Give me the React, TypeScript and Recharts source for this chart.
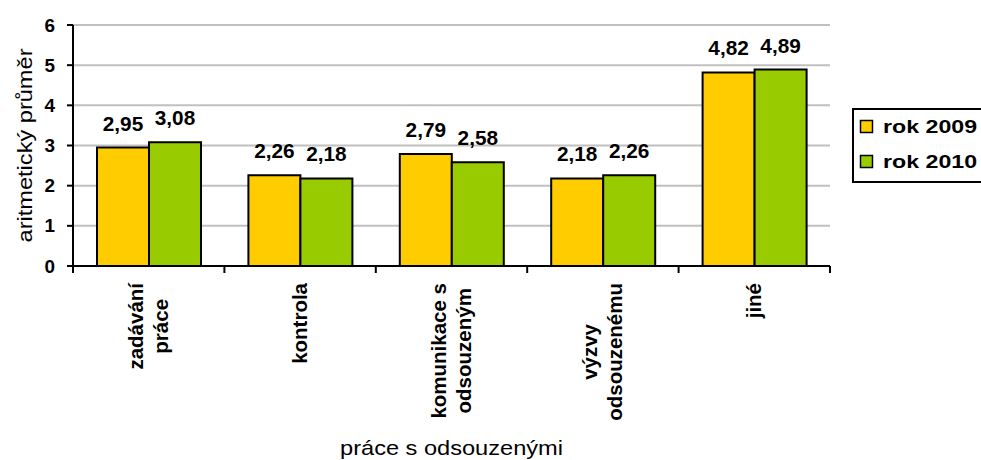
import React from 'react';
import { BarChart, Bar, XAxis, YAxis, CartesianGrid, Legend, LabelList, Label } from 'recharts';

const categories = ['zadávání\npráce', 'kontrola', 'komunikace s\nodsouzeným', 'výzvy\nodsouzenému', 'jiné'];
const rok2009 = [2.95, 2.26, 2.79, 2.18, 4.82];
const rok2010 = [3.08, 2.18, 2.58, 2.26, 4.89];
const yTicks = [0, 1, 2, 3, 4, 5, 6];
const seriesNames = ['rok 2009', 'rok 2010'];
const seriesColors = ['#FFCC00', '#99CC00'];

const data = categories.map((c, i) => ({ name: c, y2009: rok2009[i], y2010: rok2010[i] }));

const FONT = "'Liberation Sans', Arial, Helvetica, sans-serif";
const CAT_SIZE = 20.5;

let ctx: CanvasRenderingContext2D | null = null;
const measure = (t: string, font: string) => {
  if (!ctx) ctx = document.createElement('canvas').getContext('2d');
  if (!ctx) return t.length * 10;
  ctx.font = font;
  return ctx.measureText(t).width;
};

const SText = ({ x, y, rotate = 0, anchor = 'start', size, weight = 'normal', sx = 1, children }: any) => (
  <text
    transform={`translate(${x},${y}) rotate(${rotate}) scale(${sx},1)`}
    textAnchor={anchor}
    fontFamily={FONT}
    fontSize={size}
    fontWeight={weight}
    fill="#000"
  >
    {children}
  </text>
);

const fmt = (v: number) => v.toFixed(2).replace('.', ',');

const CatTick = (props: any) => {
  const { x, y, payload, index, visibleTicksCount, width } = props;
  const off = payload && typeof payload.offset === 'number' ? payload.offset : width / visibleTicksCount / 2;
  const axisY = y - 17;
  const lines = String(payload.value).split('\n');
  const maxW = Math.max(...lines.map((l) => measure(l, `bold ${CAT_SIZE}px "Liberation Sans"`)));
  const cy = y + maxW / 2;
  const n = lines.length;
  return (
    <g>
      <line x1={x - off} x2={x - off} y1={axisY} y2={axisY + 7} stroke="#000" strokeWidth={2} />
      {index === visibleTicksCount - 1 && (
        <line x1={x + off} x2={x + off} y1={axisY} y2={axisY + 7} stroke="#000" strokeWidth={2} />
      )}
      {lines.map((l, i) => (
        <SText key={i} x={x + 7 + (i - (n - 1) / 2) * 25} y={cy} rotate={-90} anchor="middle" size={CAT_SIZE} weight="bold">
          {l}
        </SText>
      ))}
    </g>
  );
};

const YTick = (props: any) => {
  const { x, y, payload } = props;
  return (
    <SText x={x} y={y + 6.5} anchor="end" size={18} weight="bold" sx={1.05}>
      {payload.value}
    </SText>
  );
};

const ValueLabel = (props: any) => {
  const { x, y, width, value } = props;
  return (
    <SText x={x + width / 2} y={y - 17} anchor="middle" size={20} weight="bold" sx={1.04}>
      {fmt(Number(value))}
    </SText>
  );
};

const YTitle = (props: any) => {
  const vb = props.viewBox || { x: 0, y: 25, width: 73, height: 241 };
  return (
    <SText x={32} y={vb.y + vb.height / 2} rotate={-90} anchor="middle" size={20} sx={1.18}>
      aritmetický průměr
    </SText>
  );
};

const XTitle = (props: any) => {
  const vb = props.viewBox || { x: 73, y: 266, width: 757, height: 194 };
  return (
    <SText x={vb.x + vb.width / 2} y={vb.y + vb.height - 5} anchor="middle" size={20} sx={1.18}>
      práce s odsouzenými
    </SText>
  );
};

const LegendBox = (props: any) => {
  const payload = props.payload || [];
  return (
    <svg width={140} height={76} style={{ display: 'block', overflow: 'visible' }}>
      <rect x={1} y={1} width={160} height={73} fill="#fff" stroke="#000" strokeWidth={2} />
      {payload.map((p: any, i: number) => (
        <g key={i}>
          <rect x={8.5} y={12.5 + i * 35} width={12} height={12} fill={p.color} stroke="#000" strokeWidth={1.5} />
          <SText x={31} y={25 + i * 35} size={19} weight="bold" sx={1.22}>
            {p.value}
          </SText>
        </g>
      ))}
    </svg>
  );
};

export default function App() {
  return (
    <div style={{ position: 'absolute', left: 0, top: 0, width: 981, height: 460, overflow: 'hidden', background: '#fff' }}>
      <BarChart
        width={981}
        height={460}
        data={data}
        margin={{ top: 25, right: 151, left: 0, bottom: 0 }}
        barCategoryGap={24}
        barGap={0}
      >
        <CartesianGrid vertical={false} stroke="#C0C0C0" strokeWidth={2} />
        <XAxis
          dataKey="name"
          height={194}
          interval={0}
          tickLine={false}
          tickSize={7}
          tickMargin={10}
          axisLine={{ stroke: '#000', strokeWidth: 2 }}
          tick={<CatTick />}
        >
          <Label content={<XTitle />} />
        </XAxis>
        <YAxis
          width={73}
          domain={[0, 6]}
          ticks={yTicks}
          interval={0}
          tickSize={6}
          tickMargin={12}
          axisLine={{ stroke: '#000', strokeWidth: 2 }}
          tickLine={{ stroke: '#000', strokeWidth: 2 }}
          tick={<YTick />}
        >
          <Label content={<YTitle />} />
        </YAxis>
        <Legend
          layout="vertical"
          align="center"
          verticalAlign="middle"
          content={<LegendBox />}
          wrapperStyle={{ left: 852, top: 108, width: 140, height: 76 }}
        />
        <Bar dataKey="y2009" name={seriesNames[0]} fill={seriesColors[0]} stroke="#000" strokeWidth={2} isAnimationActive={false}>
          <LabelList dataKey="y2009" content={<ValueLabel />} />
        </Bar>
        <Bar dataKey="y2010" name={seriesNames[1]} fill={seriesColors[1]} stroke="#000" strokeWidth={2} isAnimationActive={false}>
          <LabelList dataKey="y2010" content={<ValueLabel />} />
        </Bar>
      </BarChart>
    </div>
  );
}
